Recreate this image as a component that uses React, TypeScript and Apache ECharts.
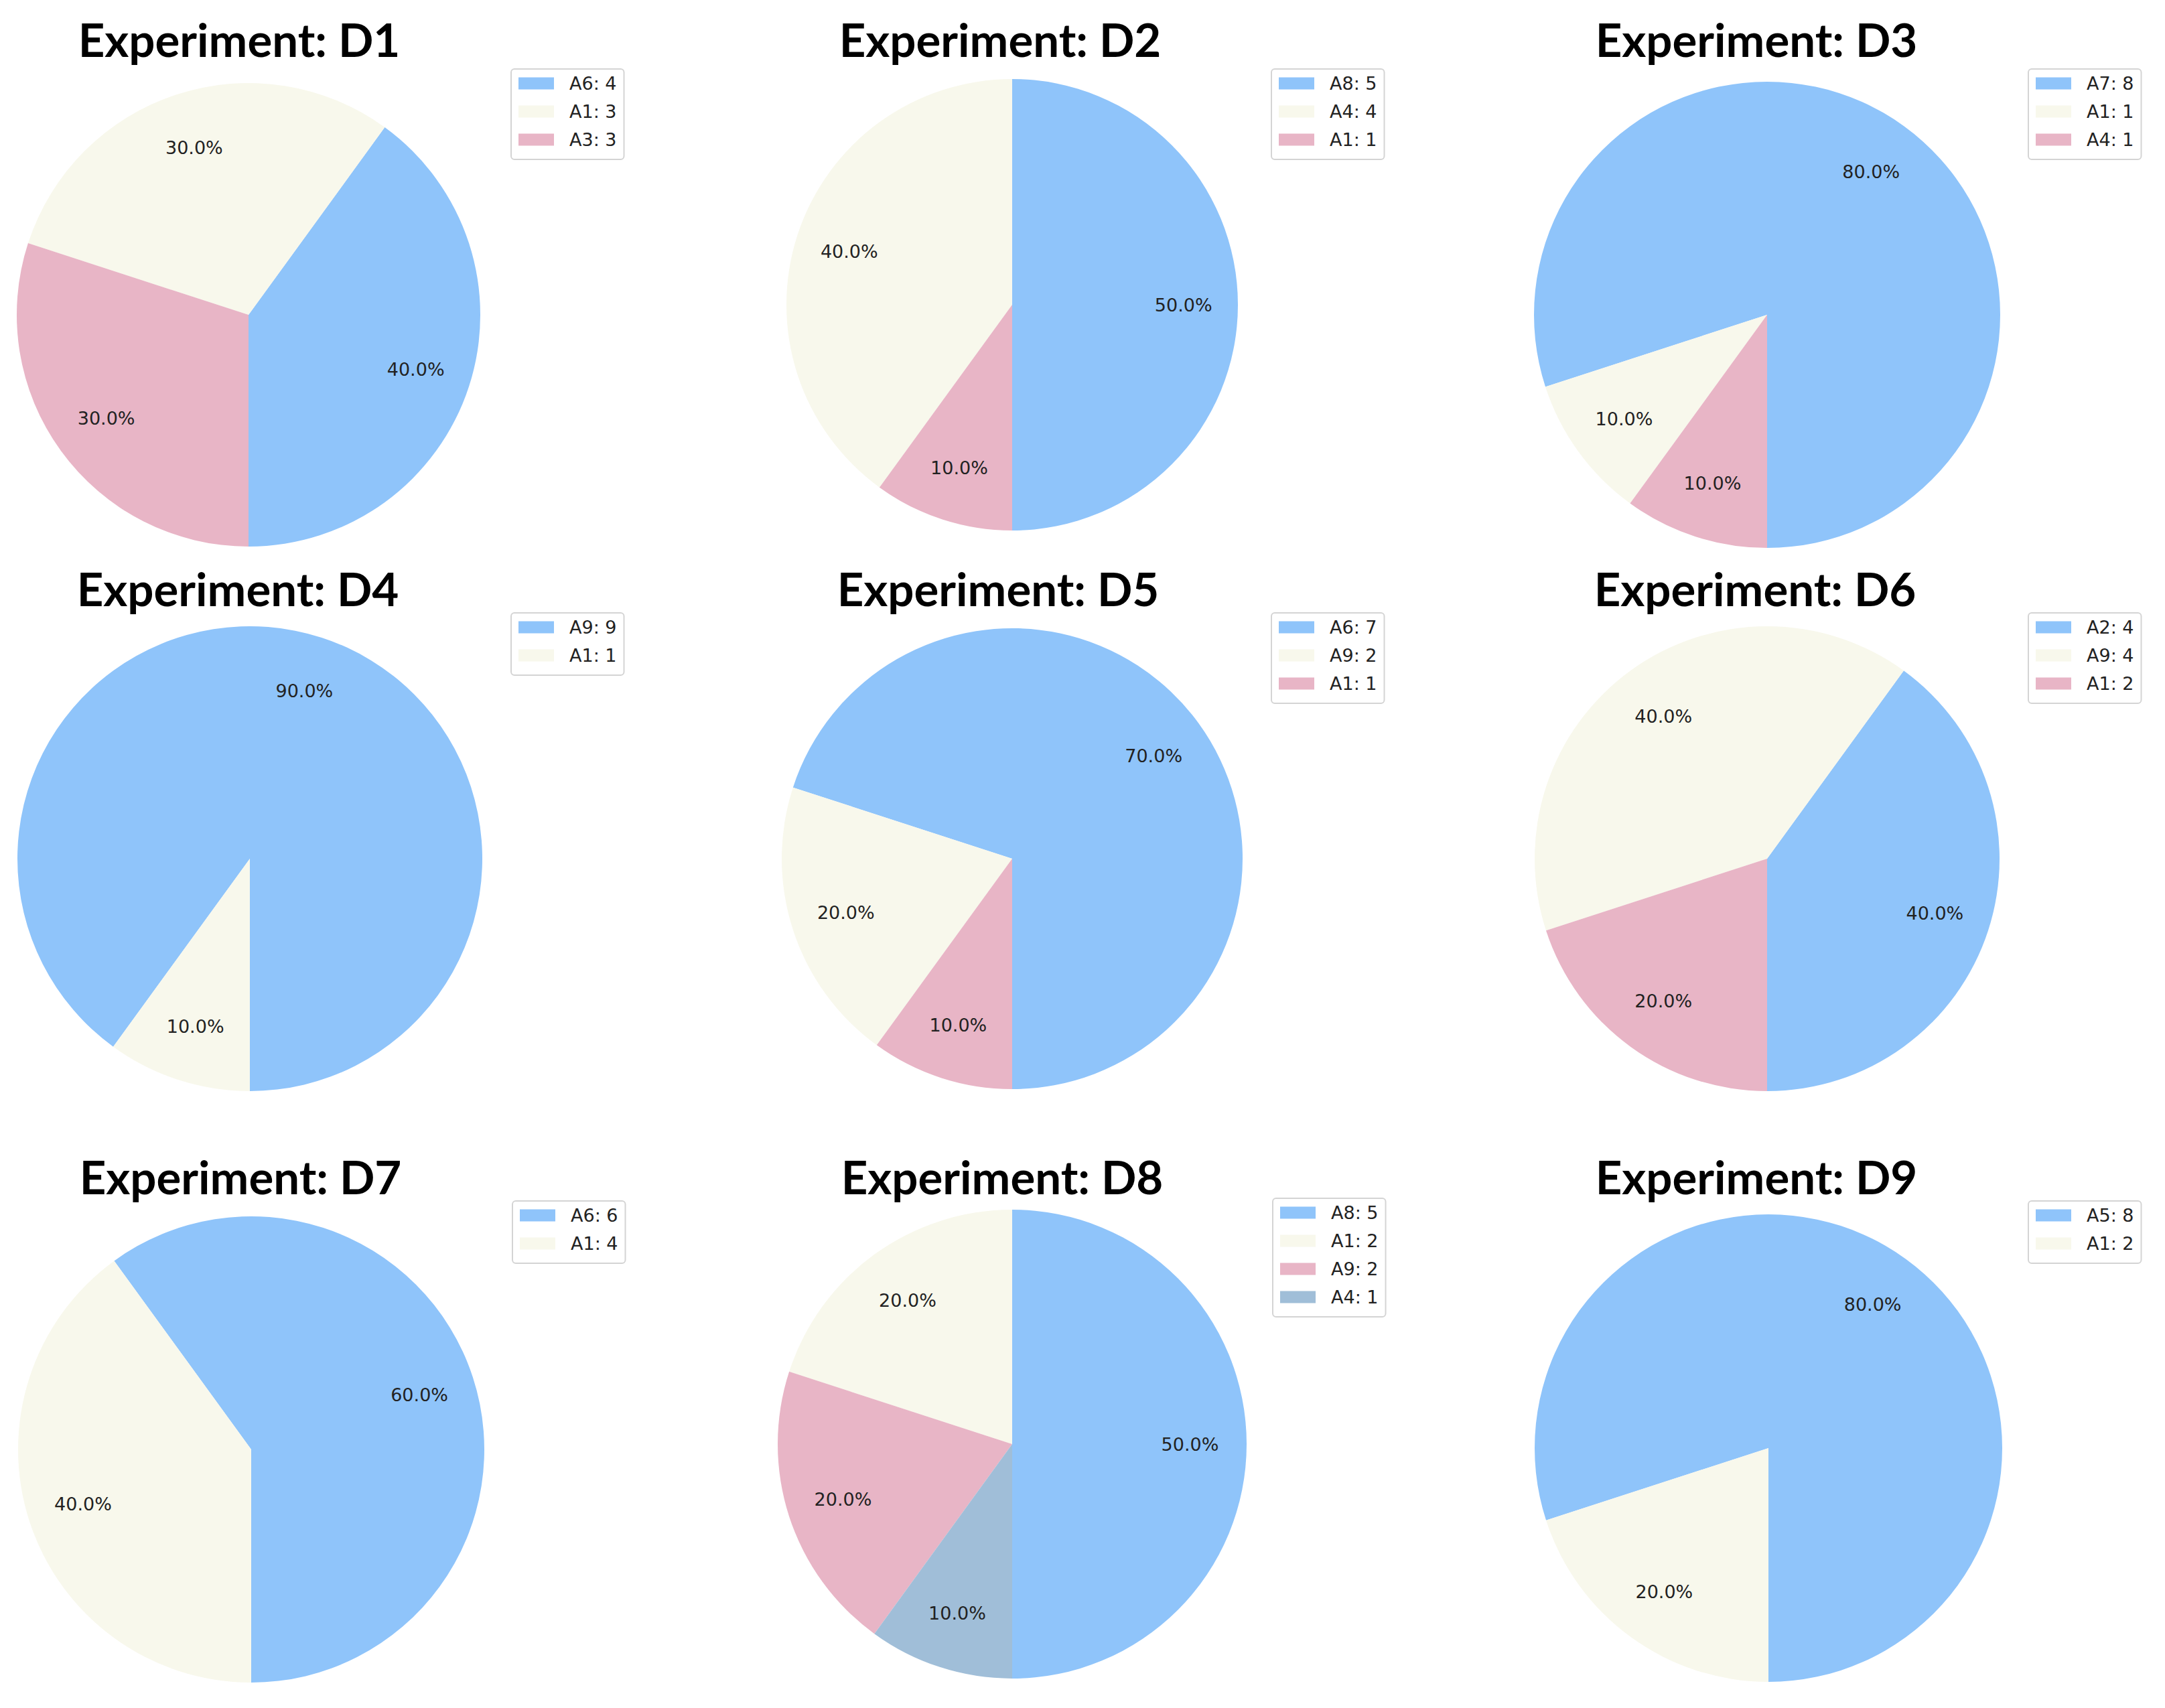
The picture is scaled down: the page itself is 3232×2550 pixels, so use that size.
import React, { useEffect, useRef } from "react";
import * as echarts from "echarts";

// ---------- data ----------
const titleTexts = [
  "Experiment: D1", "Experiment: D2", "Experiment: D3",
  "Experiment: D4", "Experiment: D5", "Experiment: D6",
  "Experiment: D7", "Experiment: D8", "Experiment: D9",
];
const d1Labels = ["A6", "A1", "A3"];
const d1Counts = [4, 3, 3];
const d2Labels = ["A8", "A4", "A1"];
const d2Counts = [5, 4, 1];
const d3Labels = ["A7", "A1", "A4"];
const d3Counts = [8, 1, 1];
const d4Labels = ["A9", "A1"];
const d4Counts = [9, 1];
const d5Labels = ["A6", "A9", "A1"];
const d5Counts = [7, 2, 1];
const d6Labels = ["A2", "A9", "A1"];
const d6Counts = [4, 4, 2];
const d7Labels = ["A6", "A1"];
const d7Counts = [6, 4];
const d8Labels = ["A8", "A1", "A9", "A4"];
const d8Counts = [5, 2, 2, 1];
const d9Labels = ["A5", "A1"];
const d9Counts = [8, 2];

const panelLabels = [d1Labels, d2Labels, d3Labels, d4Labels, d5Labels, d6Labels, d7Labels, d8Labels, d9Labels];
const panelCounts = [d1Counts, d2Counts, d3Counts, d4Counts, d5Counts, d6Counts, d7Counts, d8Counts, d9Counts];

// ---------- styles / layout ----------
const sliceColors = ["#8FC4FA", "#F8F8EC", "#E8B5C6", "#A0BED8"];
const colLeft = [0, 1077, 2155];
const colWidth = [1077, 1078, 1077];
const rowTop = [0, 830, 1690];
const rowHeight = [830, 860, 860];
const pieCenters = [
  [371, 470], [434, 455], [483, 470],
  [373, 452], [434, 452], [483, 452],
  [375, 474], [434, 466], [485, 472],
];
const pieRadii = [346, 337, 348, 347, 344, 347, 348, 350, 349];
const titleX = [357, 416, 467, 355, 413, 465, 359, 419, 467];
const titleBaseline = [86, 76, 94];
const legendPos = [
  [763, 103], [821, 103], [873, 103],
  [763, 85], [821, 85], [873, 85],
  [765, 103], [823, 99], [873, 103],
];
const TITLE_SIZE = 69;

function Panel({ idx }: { idx: number }) {
  const ref = useRef<HTMLDivElement>(null);
  useEffect(() => {
    if (!ref.current) return;
    const chart = echarts.init(ref.current, null, { renderer: "svg" });
    const row = Math.floor(idx / 3);
    const labels = panelLabels[idx];
    const counts = panelCounts[idx];
    const data = labels.map((l, i) => ({
      name: `${l}: ${counts[i]}`,
      value: counts[i],
      itemStyle: { color: sliceColors[i], borderWidth: 0 },
    }));
    const [cx, cy] = pieCenters[idx];
    const r = pieRadii[idx];
    chart.setOption({
      animation: false,
      title: {
        text: titleTexts[idx],
        left: titleX[idx],
        top: titleBaseline[row] - 62,
        textAlign: "center",
        padding: 0,
        textStyle: {
          fontFamily: "Lato",
          fontWeight: "bold",
          fontSize: TITLE_SIZE,
          lineHeight: TITLE_SIZE,
          color: "#000",
        },
      },
      legend: {
        orient: "vertical",
        left: legendPos[idx][0],
        top: legendPos[idx][1],
        icon: "rect",
        itemWidth: 53,
        itemHeight: 18,
        itemGap: 15,
        padding: [8, 11, 16, 11],
        backgroundColor: "#ffffff",
        borderColor: "#d4d4d4",
        borderWidth: 2,
        borderRadius: 5,
        selectedMode: false,
        textStyle: {
          fontFamily: "DejaVu Sans",
          fontSize: 27,
          lineHeight: 26,
          color: "#222",
          padding: [0, 0, 0, 18],
        },
        data: data.map((d) => ({ name: d.name, itemStyle: { color: d.itemStyle.color } })),
      },
      series: [
        {
          type: "pie",
          center: [cx, cy],
          radius: [0, r],
          startAngle: 270,
          clockwise: false,
          silent: true,
          data,
          label: { show: false },
          labelLine: { show: false },
          emphasis: { disabled: true },
        },
        {
          type: "pie",
          center: [cx, cy],
          radius: [r * 0.5, r],
          startAngle: 270,
          clockwise: false,
          silent: true,
          legendHoverLink: false,
          data: data.map((d) => ({ name: d.name, value: d.value })),
          itemStyle: { color: "rgba(0,0,0,0)", borderWidth: 0 },
          label: {
            show: true,
            position: "inside",
            formatter: (p: any) => `${Number(p.percent).toFixed(1)}%`,
            fontFamily: "DejaVu Sans",
            fontSize: 27,
            color: "#222",
          },
          labelLine: { show: false },
          emphasis: { disabled: true },
        },
      ],
    });
    return () => chart.dispose();
  }, [idx]);
  const row = Math.floor(idx / 3);
  const col = idx % 3;
  return (
    <div
      ref={ref}
      style={{
        position: "absolute",
        left: colLeft[col],
        top: rowTop[row],
        width: colWidth[col],
        height: rowHeight[row],
      }}
    />
  );
}

export default function App() {
  return (
    <div
      style={{
        position: "absolute",
        left: 0,
        top: 0,
        width: 3232,
        height: 2550,
        background: "#ffffff",
        overflow: "hidden",
      }}
    >
      {titleTexts.map((_, i) => (
        <Panel key={i} idx={i} />
      ))}
    </div>
  );
}
